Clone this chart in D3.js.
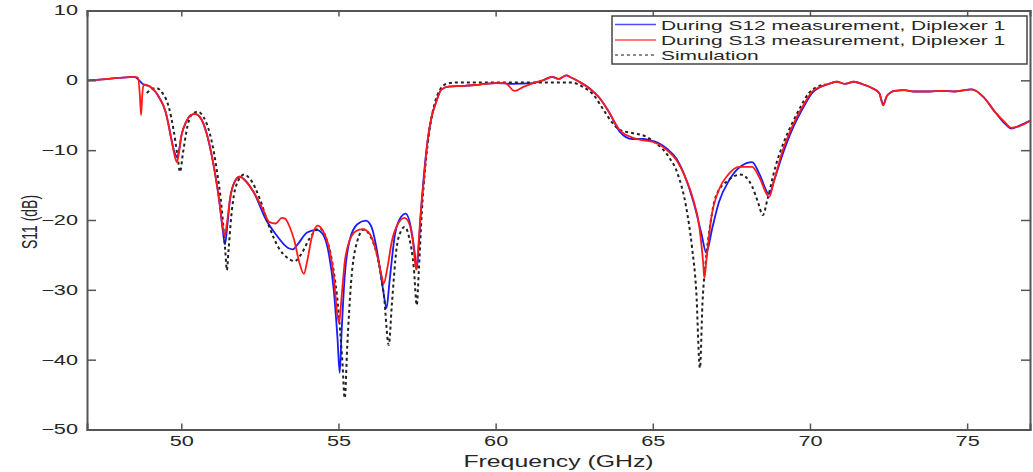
<!DOCTYPE html>
<html lang="en">
<head>
<meta charset="UTF-8"/>
<title>S11 Diplexer</title>
<script src="https://d3js.org/d3.v7.min.js"></script>
<style>
	body { margin: 0; background: #fff; }
	text { font-family: "Liberation Sans", Arial, sans-serif; fill: #262626; }
</style>
</head>
<body>
<script>
	var w = 1033;
	var h = 472;

	// S13 measurement (red)
	var freqS13 = [47.0,47.5,48.0,48.5,48.62,48.68,48.72,48.76,48.8,49.0,49.3,49.5,49.6,49.7,49.8,49.86,49.92,50.0,50.15,50.3,50.43,50.6,50.8,51.0,51.2,51.32,51.38,51.45,51.55,51.7,51.86,52.0,52.3,52.6,52.8,53.0,53.2,53.3,53.45,53.6,53.75,53.9,54.0,54.15,54.34,54.5,54.7,54.85,54.95,55.02,55.1,55.2,55.35,55.55,55.77,56.0,56.2,56.35,56.44,56.55,56.7,56.9,57.1,57.25,57.38,57.47,57.52,57.6,57.7,57.84,57.95,58.1,58.28,58.5,59.0,59.5,60.0,60.3,60.6,60.9,61.2,61.5,61.8,62.0,62.25,62.4,62.66,63.0,63.3,63.6,63.94,64.35,64.7,65.0,65.2,65.45,65.75,66.0,66.26,66.48,66.6,66.64,66.7,66.85,67.1,67.4,67.75,68.16,68.4,68.7,68.85,69.1,69.44,69.8,70.07,70.35,70.6,70.86,71.1,71.4,71.7,71.97,72.2,72.33,72.45,72.7,73.0,73.3,73.8,74.2,74.6,75.15,75.5,75.9,76.2,76.4,76.65,77.0];
	var s13 = [0.0,0.15,0.35,0.5,0.4,-2,-5,-2,-0.6,-0.9,-2.5,-4.5,-6.5,-8.8,-11,-11.7,-10.5,-8,-6,-5,-4.8,-5.3,-7.5,-11.5,-17,-21,-22.3,-20.5,-17,-14.5,-13.8,-14.2,-16,-18.5,-20.3,-20.5,-19.7,-19.8,-21,-23,-26,-27.7,-26,-22.5,-20.8,-21.5,-24,-28,-33,-34.7,-31,-26,-23,-21.6,-21.3,-22,-24.5,-27.5,-29.1,-27,-23,-20.5,-19.7,-20.5,-23.5,-27.1,-25,-20,-15,-8.5,-5.5,-3.2,-1.3,-0.9,-0.8,-0.6,-0.4,-0.4,-1.5,-0.9,-0.4,0,0.5,0.2,0.7,0.4,-0.2,-1.2,-2.5,-4.5,-7.1,-8.2,-8.6,-8.8,-9.2,-10,-11.4,-13.5,-16.7,-21,-26,-28.3,-26,-20,-15.7,-13.5,-12.4,-12.4,-14,-16.7,-14.5,-10.5,-6.6,-3.5,-1.6,-0.9,-0.5,-0.2,-0.5,-0.2,-0.6,-1.1,-1.8,-3.6,-2.2,-1.5,-1.4,-1.6,-1.6,-1.5,-1.6,-1.3,-2.3,-4.6,-6.0,-6.8,-6.6,-5.8];

	// S12 measurement (blue)
	var freqS12 = [47.0,47.5,48.0,48.5,48.8,49.0,49.3,49.5,49.6,49.7,49.8,49.87,49.93,50.0,50.15,50.3,50.43,50.6,50.8,51.0,51.2,51.32,51.39,51.46,51.55,51.7,51.86,52.0,52.3,52.7,53.0,53.4,53.55,53.7,54.0,54.3,54.5,54.7,54.85,54.97,55.04,55.1,55.2,55.35,55.6,55.87,56.05,56.25,56.42,56.53,56.62,56.8,57.0,57.14,57.3,57.42,57.49,57.55,57.62,57.7,57.84,57.95,58.1,58.28,58.5,59.0,59.5,60.0,60.5,61.2,61.5,61.8,62.0,62.25,62.4,62.66,63.0,63.3,63.6,63.94,64.35,64.7,65.0,65.2,65.45,65.75,66.0,66.3,66.55,66.7,66.9,67.1,67.43,67.8,68.16,68.4,68.7,68.85,69.1,69.44,69.8,70.07,70.35,70.6,70.86,71.1,71.4,71.7,71.97,72.2,72.33,72.45,72.7,73.0,73.3,73.8,74.2,74.6,75.15,75.5,75.9,76.2,76.4,76.65,77.0];
	var s12 = [0.0,0.15,0.35,0.5,-0.6,-0.9,-2.5,-4.5,-6.5,-8.8,-10.5,-11,-10,-8,-6,-5,-4.8,-5.3,-7.5,-11.5,-17,-21.5,-23.5,-21,-17,-14.5,-13.8,-14.2,-16,-20,-22,-24,-24.2,-23.5,-21.8,-21.4,-22,-25,-30,-37,-41.9,-36,-28,-23,-20.6,-20.1,-21,-25,-30,-32.6,-29,-22,-19.5,-19.1,-21,-24.5,-27.1,-24,-19,-14.5,-8.5,-5.5,-3.2,-1.3,-0.9,-0.8,-0.6,-0.4,-0.5,-0.4,0,0.5,0.2,0.7,0.4,-0.2,-1.2,-2.5,-4.5,-7.3,-8.4,-8.4,-8.7,-9,-9.8,-11.2,-13.5,-17.5,-22,-24.7,-21,-17.5,-14.3,-12.3,-11.7,-13.5,-16.3,-14.5,-11,-7.0,-3.8,-1.8,-0.9,-0.5,-0.2,-0.5,-0.2,-0.6,-1.1,-1.8,-3.4,-2.2,-1.5,-1.4,-1.6,-1.6,-1.5,-1.6,-1.3,-2.3,-4.6,-6.2,-6.9,-6.5,-5.8];

	// Simulation (black dashed)
	var freqSim = [48.9,49.05,49.2,49.4,49.6,49.75,49.87,49.96,50.05,50.2,50.35,50.53,50.7,50.9,51.1,51.3,51.4,51.45,51.5,51.6,51.75,52.0,52.2,52.5,52.8,53.1,53.4,53.6,53.8,54.1,54.4,54.6,54.8,55.0,55.12,55.2,55.28,55.4,55.6,55.8,56.0,56.25,56.45,56.6,56.7,56.85,57.0,57.1,57.25,57.4,57.49,57.56,57.65,57.75,57.9,58.05,58.25,58.44,58.8,59.5,60.5,61.5,62.4,62.8,63.1,63.4,63.7,63.95,64.3,64.8,65.1,65.5,65.8,66.06,66.25,66.38,66.5,66.58,66.7,66.85,67.0,67.4,67.8,68.16,68.35,68.5,68.65,68.9,69.2,69.44,69.7,69.97,70.2,70.5];
	var sim = [-1.8,-1.3,-1.1,-1.8,-3.8,-7,-10.5,-13.1,-10.5,-6.5,-4.8,-4.5,-5.2,-7.5,-12,-19,-24.5,-27.2,-24.5,-19,-15,-13.5,-14.2,-17,-21,-24,-25.5,-25.9,-25,-22.5,-21.2,-22.5,-26,-33,-40,-45.5,-38,-29,-23,-21.4,-22.2,-25.5,-31,-37.9,-32,-24,-21.5,-21,-22.5,-27,-32.2,-27,-19,-13,-7,-3.5,-1.2,-0.5,-0.3,-0.3,-0.3,-0.3,-0.3,-1.0,-2.0,-4.0,-6.0,-7.1,-7.5,-8.1,-9.0,-10.9,-13.5,-18.1,-24,-30,-41.2,-32,-25.3,-20,-16.7,-14.3,-13.5,-15.2,-17.5,-19.3,-17,-12.4,-8.5,-6.1,-3.8,-1.8,-1.0,-0.6];

	var xTicks = [50, 55, 60, 65, 70, 75];
	var yTicks = [10, 0, -10, -20, -30, -40, -50];
	var legendLabels = ["During S12 measurement, Diplexer 1", "During S13 measurement, Diplexer 1", "Simulation"];

	var plotLeft = 87, plotRight = 1030, plotTop = 10.5, plotBottom = 429.5;
	var stretch = 1.55;   // picture text is wider than normal

	var xScale = d3.scaleLinear().domain([47, 77]).range([plotLeft, plotRight]);
	var yScale = d3.scaleLinear().domain([-50, 10]).range([plotBottom, plotTop]);

	var svg = d3.select("body").append("svg")
		.attr("width", w)
		.attr("height", h);

	var line = d3.line()
		.x(function(d) { return xScale(d[0]); })
		.y(function(d) { return yScale(d[1]); })
		.curve(d3.curveMonotoneX);

	function pairs(f, v) {
		return f.map(function(x, i) { return [x, v[i]]; });
	}

	var plot = svg.append("g");

	plot.append("path")
		.datum(pairs(freqS12, s12))
		.attr("fill", "none")
		.attr("stroke", "#1a1aff")
		.attr("stroke-width", 1.8)
		.attr("d", line);

	plot.append("path")
		.datum(pairs(freqSim, sim))
		.attr("fill", "none")
		.attr("stroke", "#222")
		.attr("stroke-width", 2)
		.attr("stroke-dasharray", "3,3")
		.attr("d", line);

	plot.append("path")
		.datum(pairs(freqS13, s13))
		.attr("fill", "none")
		.attr("stroke", "#ff1a1a")
		.attr("stroke-width", 1.8)
		.attr("d", line);

	// axes, matlab style with inward ticks on all sides
	var axisColor = "#555";

	var xAxis = d3.axisBottom(xScale).tickValues(xTicks).tickSize(-6).tickPadding(7);
	var yAxis = d3.axisLeft(yScale).tickValues(yTicks).tickSize(-9).tickPadding(9);

	svg.append("g")
		.attr("transform", "translate(0," + plotBottom + ")")
		.call(xAxis);
	svg.append("g")
		.attr("transform", "translate(" + plotLeft + ",0)")
		.call(yAxis);
	svg.append("g")
		.attr("transform", "translate(0," + plotTop + ")")
		.call(d3.axisTop(xScale).tickValues(xTicks).tickSize(-6).tickFormat(""));
	svg.append("g")
		.attr("transform", "translate(" + plotRight + ",0)")
		.call(d3.axisRight(yScale).tickValues(yTicks).tickSize(-9).tickFormat(""));

	svg.selectAll(".domain").attr("stroke", axisColor).attr("stroke-width", 2);
	svg.selectAll(".tick line").attr("stroke", axisColor).attr("stroke-width", 1.5);
	svg.selectAll(".tick text").attr("font-size", 14).attr("fill", "#262626")
		.attr("font-family", "Liberation Sans, Arial, sans-serif");

	svg.append("text")
		.attr("class", "wide")
		.attr("x", (plotLeft + plotRight) / 2)
		.attr("y", 467)
		.attr("text-anchor", "middle")
		.attr("font-size", 16)
		.text("Frequency (GHz)");

	svg.append("text")
		.attr("transform", "translate(37,222) rotate(-90) scale(1," + stretch + ")")
		.attr("text-anchor", "middle")
		.attr("font-size", 14)
		.text("S11 (dB)");

	// legend
	var legend = svg.append("g");
	legend.append("rect")
		.attr("x", 612).attr("y", 16)
		.attr("width", 415).attr("height", 48)
		.attr("fill", "#fff")
		.attr("stroke", "#444")
		.attr("stroke-width", 1.5);

	var legendStyle = [
		{ color: "#4d4dff", dash: null },
		{ color: "#ff4d4d", dash: null },
		{ color: "#666", dash: "3,3" }
	];
	var rowY = [24.5, 40, 55];

	legendLabels.forEach(function(lbl, i) {
		legend.append("line")
			.attr("x1", 615).attr("x2", 656)
			.attr("y1", rowY[i]).attr("y2", rowY[i])
			.attr("stroke", legendStyle[i].color)
			.attr("stroke-width", 1.5)
			.attr("stroke-dasharray", legendStyle[i].dash);
		legend.append("text")
			.attr("class", "wide")
			.attr("x", 661)
			.attr("y", rowY[i] + 5)
			.attr("font-size", 13.5)
			.text(lbl);
	});

	// widen the horizontal texts to match the stretched picture
	svg.selectAll(".tick text, text.wide").each(function() {
		var len = this.getComputedTextLength();
		if (len > 0) {
			d3.select(this)
				.attr("textLength", len * stretch)
				.attr("lengthAdjust", "spacingAndGlyphs");
		}
	});
</script>
</body>
</html>
